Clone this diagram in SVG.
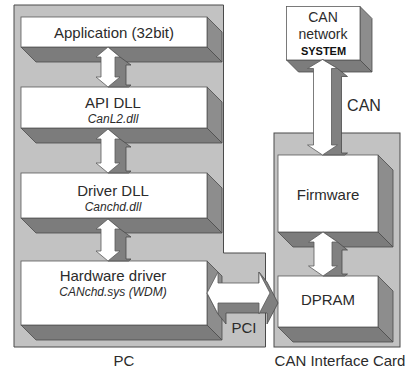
<svg xmlns="http://www.w3.org/2000/svg" width="410" height="373" viewBox="0 0 410 373">
<style>
.cont{fill:#c2c2c2;stroke:#4a4a4a;stroke-width:1}
.front{fill:#ffffff;stroke:#5a5a5a;stroke-width:0.8}
.bot{fill:#7c7c7c;stroke:#4a4a4a;stroke-width:0.8}
.side{fill:#8d8d8d;stroke:#4a4a4a;stroke-width:0.8}
.arw{fill:#ffffff;stroke:#5a5a5a;stroke-width:0.8}
.shd{fill:#808080;stroke:#4a4a4a;stroke-width:0.8}
text{font-family:"Liberation Sans",Arial,sans-serif;fill:#2b2b2b;text-anchor:middle}
.t15{font-size:15px}
.it{font-size:12px;font-style:italic}
.t14{font-size:14px}
.sys{font-size:11px;font-weight:bold;fill:#111}
.t16{font-size:16px}
</style>
<rect width="410" height="373" fill="#ffffff"/>
<g id="pc">
<path class="cont" d="M14,5 H223.5 V253 H265.5 V347 H14 Z"/>
<text class="t15" x="124" y="366">PC</text>
</g>
<g id="card">
<rect class="cont" x="274" y="133" width="126" height="214"/>
<text class="t15" x="340" y="366">CAN Interface Card</text>
</g>
<g id="app">
<polygon class="bot" points="21,47 207,47 222,62 36,62"/>
<polygon class="side" points="207,17 222,32 222,62 207,47"/>
<rect class="front" x="21" y="17" width="186" height="30"/>
<text class="t15" x="114" y="38">Application (32bit)</text>
</g>
<g id="apidll">
<polygon class="bot" points="21,128 207,128 222,143 36,143"/>
<polygon class="side" points="207,87 222,102 222,143 207,128"/>
<rect class="front" x="21" y="87" width="186" height="41"/>
<text class="t15" x="113" y="108">API DLL</text>
<text class="it" x="113" y="123">CanL2.dll</text>
</g>
<g id="driverdll">
<polygon class="bot" points="21,218 207,218 222,233 36,233"/>
<polygon class="side" points="207,173 222,188 222,233 207,218"/>
<rect class="front" x="21" y="173" width="186" height="45"/>
<text class="t15" x="113" y="196">Driver DLL</text>
<text class="it" x="113" y="211">Canchd.dll</text>
</g>
<g id="hwdriver">
<polygon class="bot" points="21,325 207,325 222,340 36,340"/>
<polygon class="side" points="207,261 222,276 222,340 207,325"/>
<rect class="front" x="21" y="261" width="186" height="64"/>
<text class="t15" x="113" y="281">Hardware driver</text>
<text class="it" x="113" y="296">CANchd.sys (WDM)</text>
</g>
<g id="cannet">
<polygon class="bot" points="286.5,60 360,60 372,72 298.5,72"/>
<polygon class="side" points="360,6.5 372,18.5 372,72 360,60"/>
<rect class="front" x="286.5" y="6.5" width="73.5" height="53.5"/>
<text class="t14" x="323" y="21.5">CAN</text>
<text class="t14" x="323" y="38.5">network</text>
<text class="sys" x="323.5" y="54.5">SYSTEM</text>
</g>
<g id="firmware">
<polygon class="bot" points="278,232 378,232 393,247 293,247"/>
<polygon class="side" points="378,155 393,170 393,247 378,232"/>
<rect class="front" x="278" y="155" width="100" height="77"/>
<text class="t15" x="328" y="200">Firmware</text>
</g>
<g id="dpram">
<polygon class="bot" points="278,327 378,327 393,342 293,342"/>
<polygon class="side" points="378,276 393,291 393,342 378,327"/>
<rect class="front" x="278" y="276" width="100" height="51"/>
<text class="t15" x="328" y="305">DPRAM</text>
</g>
<g id="connectors">
<g id="a-app-api">
<polygon class="shd" points="108,47 120,57 131,65 126,65 126,85 131,85 128.6,87 108,87"/>
<polygon class="arw" points="108,47 120,57 115,57 115,77 120,77 108,87 96,77 101,77 101,57 96,57"/>
</g>
<g id="a-api-drv">
<polygon class="shd" points="108,129 120,139 131,147 126,147 126,171 131,171 128.6,173 108,173"/>
<polygon class="arw" points="108,129 120,139 115,139 115,163 120,163 108,173 96,163 101,163 101,139 96,139"/>
</g>
<g id="a-drv-hw">
<polygon class="shd" points="108,219 120,229 131,237 126,237 126,259 131,259 128.6,261 108,261"/>
<polygon class="arw" points="108,219 120,229 115,229 115,251 120,251 108,261 96,251 101,251 101,229 96,229"/>
</g>
<g id="a-can">
<polygon class="shd" points="322.5,59.5 337.5,68.5 347.5,76.5 341.5,76.5 341.5,153 347.5,153 344.5,155 322.5,155"/>
<polygon class="arw" points="322.5,59.5 337.5,68.5 331.5,68.5 331.5,145 337.5,145 322.5,155 307.5,145 313.5,145 313.5,68.5 307.5,68.5"/>
<text class="t16" x="364" y="111">CAN</text>
</g>
<g id="a-fw-dp">
<polygon class="shd" points="323,232 337.5,242 347.5,250 342,250 342,274 347.5,274 344.6,276 323,276"/>
<polygon class="arw" points="323,232 337.5,242 332,242 332,266 337.5,266 323,276 308.5,266 314,266 314,242 308.5,242"/>
</g>
<g id="a-pci">
<polygon class="shd" points="259,272 267,282 278,303 267,324 267,313 226,313 226,324 218,314 207,293 259,293"/>
<polygon class="arw" points="207,293 218,272 218,283 259,283 259,272 270,293 259,314 259,303 218,303 218,314"/>
<text class="t15" x="244" y="333">PCI</text>
</g>
</g>
</svg>
